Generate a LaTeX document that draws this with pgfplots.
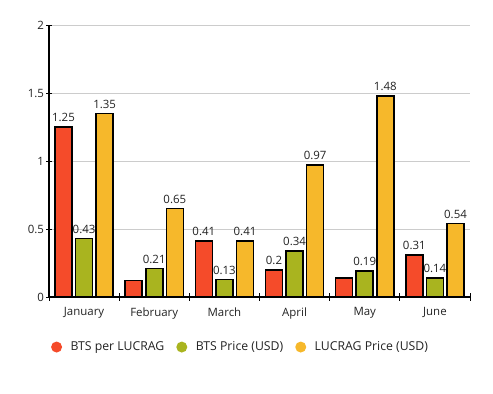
\documentclass[border=0pt]{standalone}
\usepackage{fontspec}
\setmainfont{Open Sans}
\usepackage{pgfplots}
\usepackage{pgfplotstable}
\pgfplotsset{compat=1.18}
\definecolor{cred}{HTML}{F54B2A}
\definecolor{cgreen}{HTML}{A9B41F}
\definecolor{cyellow}{HTML}{F6B82B}
\definecolor{ctext}{HTML}{222222}
\pgfplotstableread{
x y lab
0 1.25 1.25
1 0.12 {}
2 0.41 0.41
3 0.20 0.2
4 0.14 {}
5 0.31 0.31
}\redtab
\pgfplotstableread{
x y lab
0 0.43 0.43
1 0.21 0.21
2 0.13 0.13
3 0.34 0.34
4 0.19 0.19
5 0.14 0.14
}\greentab
\pgfplotstableread{
x y lab
0 1.35 1.35
1 0.65 0.65
2 0.41 0.41
3 0.97 0.97
4 1.48 1.48
5 0.54 0.54
}\yellowtab
\begin{document}
\begin{tikzpicture}
\useasboundingbox (0,0) rectangle (493bp,394bp);
\begin{axis}[
  at={(49bp,97bp)}, anchor=south west,
  scale only axis, width=421bp, height=272bp,
  ybar=3.6bp, bar width=17bp,
  xmin=-0.5, xmax=5.5, ymin=0, ymax=2,
  xtick={0,...,5},
  xticklabels={January,February,March,April,May,June},
  minor xtick={-0.5,0.5,...,5.5},
  major x tick style={draw=none},
  minor x tick style={black, line width=0.8bp},
  minor tick length=7bp,
  ytick={0,0.5,1,1.5,2},
  yticklabels={0,0.5,1,1.5,2},
  y tick style={black, line width=0.8bp},
  major tick length=5bp,
  tick align=outside,
  ymajorgrids, grid style={line width=0.6bp, draw=black!20},
  axis lines=left, axis line style={-, line width=1.6bp, black},
  tick label style={font=\fontsize{11.5}{13}\selectfont, text=ctext},
  xticklabel style={yshift=-4.5bp},
  yticklabel style={xshift=1bp},
  every axis plot/.append style={draw=black, line width=1.6bp},
  point meta=explicit symbolic,
  nodes near coords={\pgfplotspointmeta},
  every node near coord/.append style={font=\fontsize{11.5}{13}\selectfont, text=ctext, yshift=1bp},
  legend columns=3,
  legend style={at={(0.455,-0.184)}, anchor=center, draw=none, fill=none,
    font=\fontsize{12.3}{14}\selectfont, text=ctext,
    /tikz/every even column/.append style={column sep=10bp}},
  legend image code/.code={\fill[#1, draw=none] (0bp,0bp) circle (5.5bp); \path[draw=none, fill=none] (5.5bp,0bp) -- (12bp,0bp);},
]
\addplot[fill=cred] table[x=x, y=y, meta=lab] {\redtab};
\addplot[fill=cgreen] table[x=x, y=y, meta=lab] {\greentab};
\addplot[fill=cyellow] table[x=x, y=y, meta=lab] {\yellowtab};
\legend{BTS per LUCRAG, BTS Price (USD), LUCRAG Price (USD)}
\end{axis}
\end{tikzpicture}
\end{document}
